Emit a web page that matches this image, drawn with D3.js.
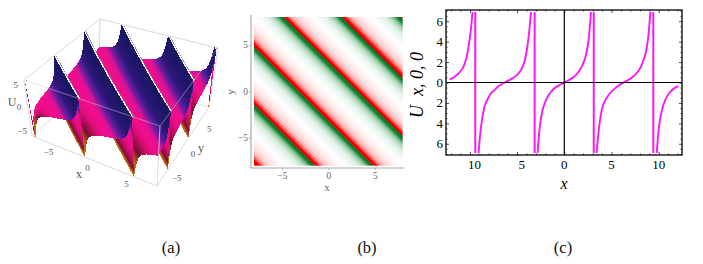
<!DOCTYPE html>
<html>
<head>
<meta charset="utf-8">
<script src="https://cdnjs.cloudflare.com/ajax/libs/d3/7.8.5/d3.min.js"></script>
<style>
  body { margin: 0; background: #fff; }
  text { font-family: "Liberation Serif", serif; }
</style>
</head>
<body>
<script>
// Curve of panel (c), one list per branch
const branchX = [
  [-12.15, -11.8, -11.5, -11.2, -11, -10.7, -10.4, -10.2, -10, -9.85, -9.72],
  [-9.08, -8.95, -8.8, -8.6, -8.4, -8.1, -7.8, -7.4, -7, -6.6, -6.3, -5.9, -5.5, -5, -4.6, -4.3, -4.1, -3.9, -3.75, -3.63, -3.53],
  [-2.83, -2.72, -2.6, -2.45, -2.3, -2.1, -1.85, -1.6, -1.3, -1, -0.7, -0.35, 0, 0.35, 0.7, 1, 1.3, 1.6, 1.85, 2.1, 2.3, 2.45, 2.6, 2.72, 2.83],
  [3.43, 3.55, 3.7, 3.85, 4, 4.2, 4.5, 4.8, 5.1, 5.4, 5.7, 6, 6.3, 6.65, 7, 7.3, 7.6, 7.9, 8.15, 8.4, 8.6, 8.75, 8.9, 9.02, 9.12],
  [9.79, 9.92, 10.05, 10.25, 10.5, 10.75, 11, 11.3, 11.6, 11.85, 12.08]
];
const branchU = [
  [0.3, 0.45, 0.65, 0.9, 1.1, 1.5, 2.3, 3.2, 4.4, 5.6, 6.9],
  [-6.9, -5.5, -4.2, -3, -2.2, -1.6, -1.1, -0.75, -0.4, -0.15, 0, 0.2, 0.4, 0.75, 1.2, 1.8, 2.5, 3.6, 4.7, 5.8, 6.9],
  [-6.9, -5.6, -4.4, -3.4, -2.7, -2.1, -1.55, -1.15, -0.8, -0.55, -0.36, -0.17, 0, 0.17, 0.36, 0.55, 0.8, 1.15, 1.55, 2.1, 2.7, 3.4, 4.4, 5.6, 6.9],
  [-6.9, -5.6, -4.3, -3.3, -2.6, -2, -1.5, -1.1, -0.8, -0.55, -0.35, -0.15, 0, 0.18, 0.38, 0.58, 0.85, 1.2, 1.6, 2.2, 2.8, 3.5, 4.5, 5.7, 6.9],
  [-6.9, -5.4, -4.2, -3.1, -2.2, -1.6, -1.2, -0.85, -0.6, -0.45, -0.35]
];
const poleX = [-9.43, -3.14, 3.12, 9.43];

// One period of the stripes in (b), same profile as the middle branch
const profileX = branchX[2];
const profileU = branchU[2];
const periodCentres = [-12.57, -6.28, 0, 6.28, 12.57];
const stripePoles = [-15.71, -9.42, -3.14, 3.14, 9.42, 15.71];

// One period of the surface in (a), looks steeper than (c)
const surfaceX = [-2.95, -2.85, -2.7, -2.5, -2.25, -1.9, -1.5, -1, -0.5, 0, 0.5, 1, 1.5, 1.9, 2.25, 2.5, 2.7, 2.85, 2.95];
const surfaceU = [-6, -5, -3.5, -2.2, -1.4, -0.9, -0.6, -0.35, -0.15, 0, 0.15, 0.35, 0.6, 0.9, 1.4, 2.2, 3.5, 5, 6];

// Tick labels
const ticks3d = [-5, 0, 5];
const ticksB = [-5, 0, 5];
const ticksCx = [-10, -5, 0, 5, 10];
const ticksCy = [-6, -4, -2, 0, 2, 4, 6];
const captions = ["(a)", "(b)", "(c)"];

const svg = d3.select("body").append("svg").attr("width", 703).attr("height", 264);

const serif = "Liberation Serif";

// ---------- panel (a): surface ----------
// screen positions of the box corners: left, front, right, back
const boxBottom = [[32, 136], [157, 186], [209, 107], [99, 75]];
const boxTop = [[24, 80], [160, 126], [218, 48], [100, 19]];

const uScale = d3.scaleLinear().domain([-8, 8]).range([0, 1]);
const wScale = d3.scaleLinear().domain([-6, 6]).range([0, 1]);

function project(x, y, z) {
  const u = uScale(x), v = uScale(y), w = wScale(z);
  const out = [0, 1].map(k => {
    const bot = (1 - v) * ((1 - u) * boxBottom[0][k] + u * boxBottom[1][k]) + v * ((1 - u) * boxBottom[3][k] + u * boxBottom[2][k]);
    const top = (1 - v) * ((1 - u) * boxTop[0][k] + u * boxTop[1][k]) + v * ((1 - u) * boxTop[3][k] + u * boxTop[2][k]);
    return bot + (top - bot) * w;
  });
  return out;
}

// colour goes with the place inside a period, not with the height
const surfaceColor = d3.scaleLinear()
  .domain([-3, -2.7, -2.3, -1.8, -1.1, -0.3, 0.5, 1.1, 1.6, 2.1, 2.6, 3])
  .range(["#d08028", "#b8601c", "#7a1030", "#a80c50", "#d80c74", "#f0108c", "#ee1090", "#c01498", "#701aa0", "#3a1a88", "#24186e", "#181460"])
  .clamp(true);
const troughPink = "#f0108c";

// walk along s = x + y: [s, height, colour place]
const walk = [];
periodCentres.concat([-18.85, 18.85]).sort(d3.ascending).forEach(c => {
  surfaceX.forEach((px, i) => {
    const s = c + px;
    if (s >= -16 && s <= 16) walk.push([s, surfaceU[i], px]);
  });
});

// the strips are painted from high s to low s, the viewer sits on the low s side
const cells = [];
const nT = 12;
function addStrip(a, b, fill, key) {
  const ends = s => [Math.max(-8, s - 8), Math.min(8, s + 8)];
  const [a0, a1] = ends(a[0]);
  const [b0, b1] = ends(b[0]);
  d3.range(nT).forEach(i => {
    const t0 = i / nT, t1 = (i + 1) / nT;
    const pts = [
      [a0 + (a1 - a0) * t0, a[0], a[1]],
      [a0 + (a1 - a0) * t1, a[0], a[1]],
      [b0 + (b1 - b0) * t1, b[0], b[1]],
      [b0 + (b1 - b0) * t0, b[0], b[1]]
    ].map(p => [p[0], p[1] - p[0], p[2]]);
    cells.push({ pts, s: key === undefined ? (a[0] + b[0]) / 2 : key, fill: typeof fill === "function" ? fill((t0 + t1) / 2) : fill });
  });
}
for (let i = 0; i < walk.length - 1; i++) {
  const a = walk[i], b = walk[i + 1];
  const isWall = a[1] === 6 && b[1] === -6;
  const n = Math.max(1, Math.ceil(Math.abs(b[1] - a[1]) / 0.4), Math.ceil(Math.abs(b[2] - a[2]) / 0.06));
  d3.range(n).forEach(k => {
    const f0 = k / n, f1 = (k + 1) / n;
    const at = f => [a[0] + (b[0] - a[0]) * f, a[1] + (b[1] - a[1]) * f, a[2] + (b[2] - a[2]) * f];
    const tone = (at(f0)[2] + at(f1)[2]) / 2;
    const base = surfaceColor(tone);
    // the dark foot of a trough only shows near the front of the box
    const fill = (tone < -0.3 && tone > -2.6 && !isWall)
      ? t => d3.interpolateRgb(troughPink, base)(Math.min(1, Math.max(0.05, (t - 0.35) / 0.5)))
      : base;
    addStrip(at(f0), at(f1), fill);
  });
  // pale gap and grey rim just behind each clipped top
  if (isWall) {
    addStrip([a[0], 6], [a[0] + 0.2, 6], "#f8f8fa", a[0] + 0.001);
    addStrip([a[0] + 0.2, 6], [a[0] + 0.3, 6], "#8c8ca0", a[0] + 0.002);
  }
}
cells.sort((p, q) => q.s - p.s);

const defs = svg.append("defs");
defs.append("filter").attr("id", "soft").attr("x", "-5%").attr("y", "-5%").attr("width", "110%").attr("height", "110%")
  .append("feGaussianBlur").attr("stdDeviation", 0.5);

const boxLine = "#cfcfcf";
const panelA = svg.append("g");
const line3d = (a, b) => {
  const p = project(...a), q = project(...b);
  return panelA.append("line").attr("x1", p[0]).attr("y1", p[1]).attr("x2", q[0]).attr("y2", q[1])
    .attr("stroke", boxLine).attr("stroke-width", 0.8);
};
// back edges first
line3d([-8, 8, -6], [-8, 8, 6]);
line3d([-8, 8, -6], [8, 8, -6]);
line3d([-8, 8, -6], [-8, -8, -6]);
line3d([-8, 8, 6], [8, 8, 6]);
line3d([-8, 8, 6], [-8, -8, 6]);
line3d([8, 8, -6], [8, 8, 6]);

// no antialiasing on the thin strips, the blur smooths the result
const surface = panelA.append("g").attr("filter", "url(#soft)");
surface.selectAll("path").data(cells).join("path")
  .attr("d", d => "M" + d.pts.map(p => project(...p).join(",")).join("L") + "Z")
  .attr("fill", d => d.fill)
  .attr("shape-rendering", "crispEdges");

// front edges over the surface
line3d([-8, -8, -6], [-8, -8, 6]);
line3d([-8, -8, -6], [8, -8, -6]);
line3d([8, -8, -6], [8, 8, -6]);
line3d([8, -8, -6], [8, -8, 6]);
line3d([-8, -8, 6], [8, -8, 6]).attr("stroke-opacity", 0.6);
line3d([8, -8, 6], [8, 8, 6]).attr("stroke-opacity", 0.6);

const label3d = (x, y, str, size) => panelA.append("text").attr("x", x).attr("y", y)
  .attr("text-anchor", "middle").attr("dominant-baseline", "middle")
  .attr("font-size", size).attr("fill", "#555").text(str);
const fmt = d => d < 0 ? "\u2212" + Math.abs(d) : "" + d;
ticks3d.forEach(d => {
  const px = project(d, -8, -6), py = project(8, d, -6), pz = project(-8, -8, d);
  label3d(px[0] - 7, px[1] + 8, fmt(d), 9);
  label3d(py[0] + 10, py[1] + 8, fmt(d), 9);
  label3d(pz[0] - 9, pz[1] + (d === 0 ? 0 : 1), fmt(d), 9);
});
label3d(79, 175, "x", 12);
label3d(201, 149, "y", 12);
label3d(12, 103, "U", 12);

// ---------- panel (b): stripes ----------
const xB = d3.scaleLinear().domain([-8, 8]).range([254, 402.7]);
const yB = d3.scaleLinear().domain([-8, 8]).range([165.7, 17]);
const stripeColor = d3.scaleLinear()
  .domain([-6.9, -4, -2, -0.9, 0, 0.9, 2, 4, 6.9])
  .range(["#f20000", "#ff5a5a", "#ffbcbc", "#ffe2e2", "#ffffff", "#dff0e4", "#a8d6b4", "#4aa05e", "#0a7a2e"])
  .clamp(true);

const sToOffset = d3.scaleLinear().domain([-16, 16]).range([0, 1]).clamp(true);
const grad = defs.append("linearGradient").attr("id", "stripes")
  .attr("gradientUnits", "userSpaceOnUse")
  .attr("x1", xB(-8)).attr("y1", yB(-8)).attr("x2", xB(8)).attr("y2", yB(8));
const stops = [];
stops.push([stripePoles[0], profileU[0]]);
periodCentres.forEach(c => {
  profileX.forEach((px, i) => stops.push([c + px, profileU[i]]));
  stops.push([c + 3.14, profileU[profileU.length - 1]]);
  stops.push([c + 3.14, profileU[0]]);
});
grad.selectAll("stop").data(stops).join("stop")
  .attr("offset", d => sToOffset(d[0]))
  .attr("stop-color", d => stripeColor(d[1]));

svg.append("rect").attr("x", xB(-8)).attr("y", yB(8))
  .attr("width", xB(8) - xB(-8)).attr("height", yB(-8) - yB(8))
  .attr("fill", "url(#stripes)");

const xAxisB = d3.axisBottom(xB).tickValues(ticksB).tickSize(2).tickFormat(fmt);
const yAxisB = d3.axisLeft(yB).tickValues(ticksB).tickSize(2).tickFormat(fmt);
const gxB = svg.append("g").attr("transform", "translate(0,168)").call(xAxisB);
const gyB = svg.append("g").attr("transform", "translate(251,0)").call(yAxisB);
gxB.select(".domain").attr("d", "M251,0H404");
gyB.select(".domain").attr("d", "M0,168V15");
[gxB, gyB].forEach(g => {
  g.select(".domain").attr("stroke", "#aaa").attr("stroke-width", 1.2);
  g.selectAll(".tick line").attr("stroke", "#aaa");
  g.selectAll("text").attr("font-family", serif).attr("font-size", 9.5).attr("fill", "#666");
});
gxB.selectAll("text").attr("y", 4);
gyB.selectAll("text").attr("x", -3);
svg.append("text").attr("x", 327).attr("y", 191).attr("text-anchor", "middle")
  .attr("font-size", 11).attr("fill", "#666").text("x");
svg.append("text").attr("transform", "translate(234,92) rotate(-90)").attr("text-anchor", "middle")
  .attr("font-size", 11).attr("fill", "#666").text("y");

// ---------- panel (c): curve ----------
const xC = d3.scaleLinear().domain([-12.53, 12.47]).range([446, 682]);
const yC = d3.scaleLinear().domain([-7.1, 7.1]).range([155, 10]);
const pink = "#fa18f6";

svg.append("g").selectAll("line").data(poleX).join("line")
  .attr("x1", d => xC(d)).attr("x2", d => xC(d))
  .attr("y1", yC(6.9)).attr("y2", yC(-6.9))
  .attr("stroke", pink).attr("stroke-width", 2);

const curve = d3.line().x(d => xC(d[0])).y(d => yC(d[1])).curve(d3.curveCatmullRom);
svg.append("g").selectAll("path").data(branchX.map((xs, i) => d3.zip(xs, branchU[i]))).join("path")
  .attr("d", curve).attr("fill", "none")
  .attr("stroke", pink).attr("stroke-width", 1.9);

// zero lines
svg.append("line").attr("x1", xC.range()[0]).attr("x2", xC.range()[1]).attr("y1", yC(0)).attr("y2", yC(0))
  .attr("stroke", "#000").attr("stroke-width", 1.2);
svg.append("line").attr("x1", xC(0)).attr("x2", xC(0)).attr("y1", yC.range()[0]).attr("y2", yC.range()[1])
  .attr("stroke", "#000").attr("stroke-width", 1.2);

const minorX = d3.range(-12, 13).filter(d => d % 5 !== 0);
const minorY = d3.range(-7, 7.01, 0.5).filter(d => d % 2 !== 0);
function ticksC(axisFn, scale, vals, size, pos) {
  svg.append("g").attr("transform", pos)
    .call(axisFn(scale).tickValues(vals).tickSize(size).tickFormat(""))
    .call(g => g.select(".domain").remove())
    .call(g => g.selectAll(".tick line").attr("stroke", "#000").attr("stroke-width", 0.7));
}
ticksC(d3.axisTop, xC, minorX, 1.5, "translate(0,155)");
ticksC(d3.axisBottom, xC, minorX, 1.5, "translate(0,10)");
ticksC(d3.axisTop, xC, ticksCx, 3, "translate(0,155)");
ticksC(d3.axisBottom, xC, ticksCx, 3, "translate(0,10)");
ticksC(d3.axisRight, yC, minorY, 1.5, "translate(446,0)");
ticksC(d3.axisLeft, yC, minorY, 1.5, "translate(682,0)");
ticksC(d3.axisRight, yC, ticksCy, 3, "translate(446,0)");
ticksC(d3.axisLeft, yC, ticksCy, 3, "translate(682,0)");

svg.append("rect").attr("x", 446).attr("y", 10).attr("width", 236).attr("height", 145)
  .attr("fill", "none").attr("stroke", "#000").attr("stroke-width", 1.3);

// the minus signs are missing in the reference, so the digits sit right of their tick
ticksCx.forEach(d => svg.append("text").attr("x", xC(d) + (d < 0 ? 4.7 : 0)).attr("y", 169).attr("text-anchor", "middle")
  .attr("font-size", 13).attr("fill", "#000").text(Math.abs(d)));
ticksCy.forEach(d => svg.append("text").attr("x", 443).attr("y", yC(d) + 4.5).attr("text-anchor", "end")
  .attr("font-size", 13).attr("fill", "#000").text(Math.abs(d)));

svg.append("text").attr("x", 564).attr("y", 189).attr("text-anchor", "middle")
  .attr("font-size", 16).attr("font-style", "italic").attr("fill", "#000").text("x");
svg.append("text").attr("transform", "translate(423,85) rotate(-90)").attr("text-anchor", "middle")
  .attr("font-size", 18).attr("font-style", "italic").attr("fill", "#000")
  .style("white-space", "pre").text("U  x, 0, 0");

// ---------- captions ----------
svg.append("g").selectAll("text").data(captions).join("text")
  .attr("x", (d, i) => [171, 367, 563][i]).attr("y", 253)
  .attr("text-anchor", "middle").attr("font-size", 16.5).attr("fill", "#111").text(d => d);
</script>
</body>
</html>
